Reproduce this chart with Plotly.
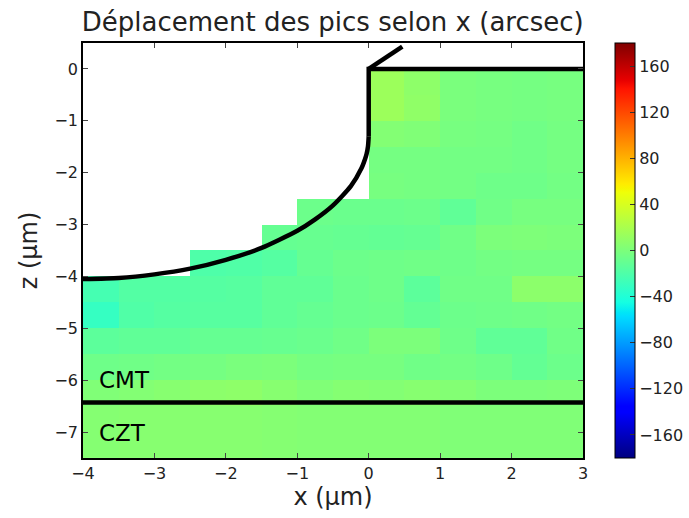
import plotly.graph_objects as go

# Cell centres of the 0.5 µm mesh
x_centres = [-3.75, -3.25, -2.75, -2.25, -1.75, -1.25, -0.75, -0.25,
             0.25, 0.75, 1.25, 1.75, 2.25, 2.75]
z_centres = [-0.25, -0.75, -1.25, -1.75, -2.25, -2.75, -3.25, -3.75,
             -4.25, -4.75, -5.25, -5.75, -6.25, -6.75, -7.25]

N = None
# Peak shift along x (arcsec); None = outside the material
shift = [
    [N, N, N, N, N, N, N, N, 14, 8, -1, -2, -3, -2],
    [N, N, N, N, N, N, N, N, 14, 9, -1, -2, -3, -2],
    [N, N, N, N, N, N, N, N, 3, 2, -2, -3, -5, -3],
    [N, N, N, N, N, N, N, N, -3, -3, -4, -4, -5, -3],
    [N, N, N, N, N, N, N, N, -2, -3, -4, -6, -6, -4],
    [N, N, N, N, N, N, -7, -8, -8, -7, -12, -5, -2, -2],
    [N, N, N, N, N, -10, -9, -10, -11, -10, -5, 0, 1, 0],
    [N, N, N, -20, -19, -17, -10, -7, -6, -5, -6, -4, -3, -3],
    [-24, -18, -18, -17, -16, -12, -12, -8, -6, -14, -5, -5, 7, 7],
    [-31, -19, -17, -16, -16, -12, -10, -8, -7, -11, -7, -6, -5, -4],
    [-14, -12, -12, -10, -10, -9, -8, -5, 0, 0, -6, -12, -12, -5],
    [-6, -5, -4, -3, -1, 0, -3, -2, -2, -5, -4, -6, -11, -7],
    [2, 3, 5, 7, 8, 5, 2, 4, 3, 5, 3, 0, 0, 1],
    [4, 5, 5, 5, 5, 4, 3, 3, 3, 3, 2, 2, 2, 2],
    [4, 5, 5, 5, 5, 4, 3, 3, 3, 3, 2, 2, 2, 2],
]

# Outline of the etched surface (µm)
surface_x = [-4.0, -3.5, -3.0, -2.5, -2.0, -1.5, -1.0, -0.75, -0.5, -0.25,
             -0.1, -0.05, -0.03, -0.01, 0.0]
surface_z = [-4.05, -4.03, -3.96, -3.85, -3.68, -3.45, -3.12, -2.90, -2.63,
             -2.26, -1.91, -1.73, -1.64, -1.49, -1.30]
wall_x = [0.0, 0.0, 3.0]
wall_z = [-1.30, 0.0, 0.0]
tip_x = [0.0, 0.47]
tip_z = [0.0, 0.43]
interface_x = [-4.0, 3.0]
interface_z = [-6.43, -6.43]

layer_labels = ["CMT", "CZT"]
layer_label_z = [-6.0, -7.02]

x_ticks = [-4, -3, -2, -1, 0, 1, 2, 3]
z_ticks = [-7, -6, -5, -4, -3, -2, -1, 0]
cbar_ticks = [-160, -120, -80, -40, 0, 40, 80, 120, 160]

FONT = "DejaVu Sans"

# matplotlib-style jet colormap
jet = [
    [0.0, "rgb(0,0,128)"], [0.11, "rgb(0,0,255)"], [0.125, "rgb(0,0,255)"],
    [0.34, "rgb(0,219,255)"], [0.35, "rgb(0,230,247)"],
    [0.375, "rgb(21,255,226)"], [0.64, "rgb(239,255,8)"],
    [0.65, "rgb(247,245,0)"], [0.66, "rgb(255,236,0)"],
    [0.89, "rgb(255,19,0)"], [0.91, "rgb(232,0,0)"], [1.0, "rgb(128,0,0)"],
]

fig = go.Figure()
fig.add_trace(go.Heatmap(
    x=x_centres, y=z_centres, z=shift,
    zmin=-180, zmax=180, colorscale=jet, hoverongaps=False,
    colorbar=dict(
        x=1.064, xanchor="left", y=0.5, yanchor="middle", len=1.0,
        lenmode="fraction", thickness=20, ypad=0, xpad=0, outlinewidth=1,
        outlinecolor="black", tickvals=cbar_ticks, ticks="inside",
        ticklen=5, tickcolor="#333",
        tickfont=dict(family=FONT, size=16, color="#222"),
    ),
))

line_style = dict(color="black", width=4.5)
fig.add_trace(go.Scatter(x=surface_x, y=surface_z, mode="lines",
                         line=dict(shape="spline", smoothing=0.6, **line_style),
                         showlegend=False, hoverinfo="skip"))
fig.add_trace(go.Scatter(x=wall_x, y=wall_z, mode="lines", line=line_style,
                         showlegend=False, hoverinfo="skip"))
fig.add_trace(go.Scatter(x=tip_x, y=tip_z, mode="lines", line=line_style,
                         showlegend=False, hoverinfo="skip"))
fig.add_trace(go.Scatter(x=interface_x, y=interface_z, mode="lines",
                         line=line_style, showlegend=False, hoverinfo="skip"))

for text, zz in zip(layer_labels, layer_label_z):
    fig.add_annotation(x=-3.8, y=zz, text=text, showarrow=False,
                       xanchor="left", yanchor="middle",
                       font=dict(family=FONT, size=23, color="black"))

axis_common = dict(
    showgrid=False, zeroline=False, showline=True, linecolor="black",
    linewidth=1.5, mirror="ticks", ticks="inside", ticklen=5,
    tickcolor="#444", tickfont=dict(family=FONT, size=16, color="#222"),
)
fig.update_xaxes(range=[-4, 3], tickvals=x_ticks,
                 title=dict(text="x (µm)", standoff=6,
                            font=dict(family=FONT, size=24, color="#222")),
                 **axis_common)
fig.update_yaxes(range=[-7.5, 0.5], tickvals=z_ticks,
                 title=dict(text="z (µm)", standoff=10,
                            font=dict(family=FONT, size=24, color="#222")),
                 **axis_common)

fig.update_layout(
    width=689, height=518,
    margin=dict(l=83, r=106, t=43, b=60, autoexpand=False),
    plot_bgcolor="white", paper_bgcolor="white",
    title=dict(text="Déplacement des pics selon x (arcsec)",
               x=0.483, xanchor="center", y=0.958, yanchor="middle",
               font=dict(family=FONT, size=26, color="#222")),
)

fig.write_html("out.html")
